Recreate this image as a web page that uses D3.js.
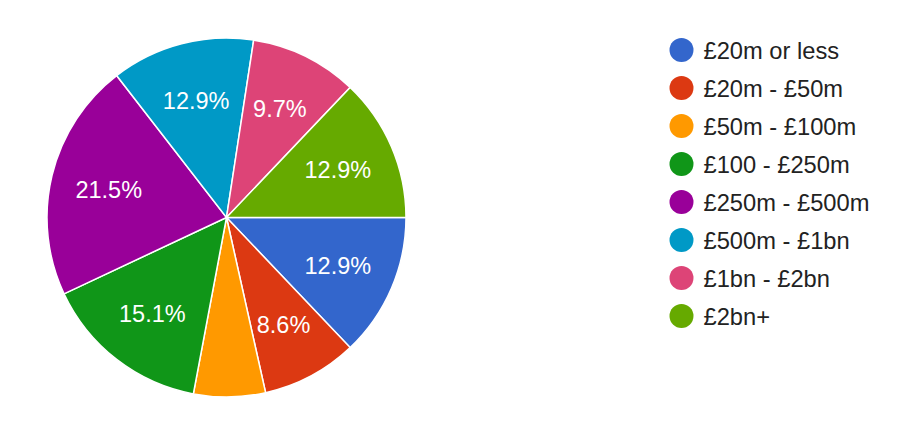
<!DOCTYPE html>
<html><head><meta charset="utf-8">
<script src="https://cdn.jsdelivr.net/npm/d3@7"></script>
<style>html,body{margin:0;padding:0;background:#fff;}svg{display:block;}</style>
</head><body>
<svg id="chart" width="904" height="424"></svg>
<script>
const categories = ["£20m or less","£20m - £50m","£50m - £100m","£100 - £250m","£250m - £500m","£500m - £1bn","£1bn - £2bn","£2bn+"];
const counts = [12, 8, 6, 14, 20, 12, 9, 12];
const colors = ["#3366cc","#dc3912","#ff9900","#109618","#990099","#0099c6","#dd4477","#66aa00"];

const svg = d3.select("#chart");
const cx = 226.5, cy = 217.5, R = 179.5;
const total = d3.sum(counts);
const data = categories.map((c,i)=>({cat:c, value:counts[i], color:colors[i]}));

const pie = d3.pie().value(d=>d.value).sort(null)
  .startAngle(Math.PI/2).endAngle(Math.PI/2 + 2*Math.PI);
const arcs = pie(data);
const arc = d3.arc().innerRadius(0).outerRadius(R);
const labelArc = d3.arc().innerRadius(R*0.675).outerRadius(R*0.675);

const g = svg.append("g").attr("transform",`translate(${cx},${cy})`);
g.selectAll("path").data(arcs).join("path")
  .attr("d", arc).attr("fill", d=>d.data.color)
  .attr("stroke","#fff").attr("stroke-width",1.5);

const fmt = d3.format(".1f");
g.selectAll("text").data(arcs.filter(d=>d.data.value/total >= 0.07)).join("text")
  .attr("transform", d=>`translate(${labelArc.centroid(d)})`)
  .attr("text-anchor","middle").attr("dy","0.36em")
  .attr("font-family","Liberation Sans, Arial, sans-serif")
  .attr("font-size",23.5).attr("fill","#fff")
  .text(d=>fmt(d.data.value/total*100)+"%");

const leg = svg.append("g");
const ly = d3.scalePoint().domain(categories).range([50, 316]);
const items = leg.selectAll("g").data(data).join("g")
  .attr("transform", d=>`translate(0,${ly(d.cat)})`);
items.append("circle").attr("cx",681.5).attr("cy",0).attr("r",12).attr("fill",d=>d.color);
items.append("text").attr("x",703.5).attr("y",0).attr("dy","0.36em")
  .attr("font-family","Liberation Sans, Arial, sans-serif")
  .attr("font-size",23.7).attr("fill","#222").text(d=>d.cat);
</script>
</body></html>
